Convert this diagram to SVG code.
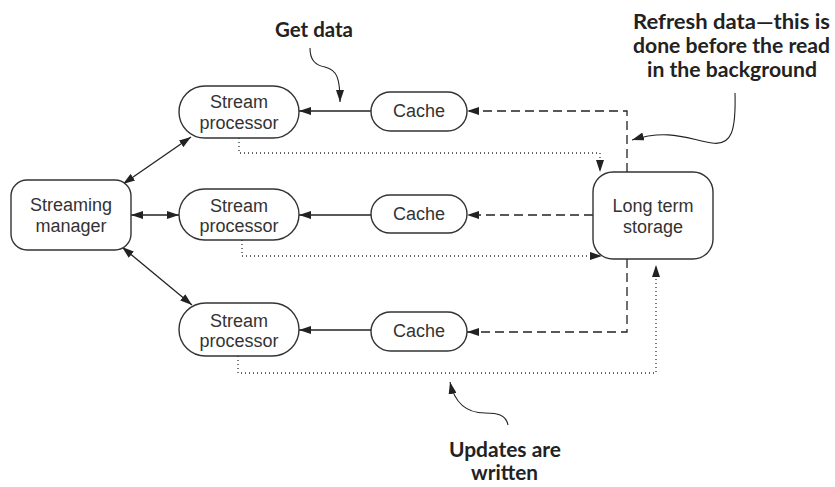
<svg xmlns="http://www.w3.org/2000/svg" width="835" height="487" viewBox="0 0 835 487">
<style>
.node{fill:#fff;stroke:#333;stroke-width:1.4}
.nt{font-family:"Liberation Sans",Arial,sans-serif;font-size:18px;fill:#333;text-anchor:middle}
.bt{font-family:Lato,"Open Sans",sans-serif;font-weight:700;font-size:20px;fill:#222;text-anchor:middle}
.solid{fill:none;stroke:#222;stroke-width:1.3}
.dash{fill:none;stroke:#222;stroke-width:1.3;stroke-dasharray:9 5}
.dot{fill:none;stroke:#333;stroke-width:1.3;stroke-dasharray:1 3}
.call{fill:none;stroke:#222;stroke-width:1.1}
</style>
<defs>
<marker id="arr" viewBox="0 0 12 8" refX="12" refY="4" markerWidth="12" markerHeight="8" markerUnits="userSpaceOnUse" orient="auto-start-reverse">
<path d="M0,0 L12,4 L0,8 z" fill="#222"/>
</marker>
</defs>
<g id="connectors">
<path class="solid" d="M371,111 H299" marker-end="url(#arr)"/>
<path class="solid" d="M371,215 H299" marker-end="url(#arr)"/>
<path class="solid" d="M371,330 H299" marker-end="url(#arr)"/>
<path class="dash" d="M627,172 V111 H467" marker-end="url(#arr)"/>
<path class="dash" d="M593,215 H467" marker-end="url(#arr)"/>
<path class="dash" d="M627,259 V332 H467" marker-end="url(#arr)"/>
<path class="dot" d="M239,138 V153 H600 V172" marker-end="url(#arr)"/>
<path class="dot" d="M242,240 V256 H602" marker-end="url(#arr)"/>
<path class="dot" d="M238,356 V373 H656 V265" marker-end="url(#arr)"/>
<path class="solid" d="M123,184 L191,137" marker-start="url(#arr)" marker-end="url(#arr)"/>
<path class="solid" d="M131,215 H179" marker-start="url(#arr)" marker-end="url(#arr)"/>
<path class="solid" d="M122,247 L192,305" marker-start="url(#arr)" marker-end="url(#arr)"/>
<path class="call" d="M310,48 C310,60 315,65 325,67 C337,70 340,78 340,102" marker-end="url(#arr)"/>
<path class="call" d="M735,93 C736,130 732,146 712,143 C690,140 670,128 632,140" marker-end="url(#arr)"/>
<path class="call" d="M508,425 C506,415 498,413 485,413 C468,413 455,405 450,382" marker-end="url(#arr)"/>
</g>
<g id="streaming-manager">
<rect class="node" x="11" y="180" width="120" height="70" rx="16"/>
<text class="nt" x="71" y="211">Streaming</text>
<text class="nt" x="71" y="232">manager</text>
</g>
<g id="stream-processor-1">
<rect class="node" x="179" y="86" width="120" height="52" rx="26"/>
<text class="nt" x="239" y="108">Stream</text>
<text class="nt" x="239" y="129">processor</text>
</g>
<g id="stream-processor-2">
<rect class="node" x="179" y="189" width="120" height="51" rx="25.5"/>
<text class="nt" x="239" y="212">Stream</text>
<text class="nt" x="239" y="232">processor</text>
</g>
<g id="stream-processor-3">
<rect class="node" x="179" y="303" width="120" height="53" rx="26.5"/>
<text class="nt" x="239" y="327">Stream</text>
<text class="nt" x="239" y="347">processor</text>
</g>
<g id="cache-1">
<rect class="node" x="371" y="92" width="96" height="39" rx="19.5"/>
<text class="nt" x="419" y="117">Cache</text>
</g>
<g id="cache-2">
<rect class="node" x="371" y="195" width="96" height="38" rx="19"/>
<text class="nt" x="419" y="220">Cache</text>
</g>
<g id="cache-3">
<rect class="node" x="371" y="312" width="96" height="39" rx="19.5"/>
<text class="nt" x="419" y="337">Cache</text>
</g>
<g id="long-term-storage">
<rect class="node" x="593" y="172" width="120" height="87" rx="20"/>
<text class="nt" x="653" y="212">Long term</text>
<text class="nt" x="653" y="233">storage</text>
</g>
<g id="labels">
<text class="bt" x="314" y="37" textLength="78" lengthAdjust="spacingAndGlyphs">Get data</text>
<text class="bt" x="731.5" y="29" textLength="197" lengthAdjust="spacingAndGlyphs">Refresh data—this is</text>
<text class="bt" x="731.5" y="53" textLength="197" lengthAdjust="spacingAndGlyphs">done before the read</text>
<text class="bt" x="732" y="77" textLength="170" lengthAdjust="spacingAndGlyphs">in the background</text>
<text class="bt" x="505" y="457" textLength="112" lengthAdjust="spacingAndGlyphs">Updates are</text>
<text class="bt" x="504.5" y="480" textLength="67" lengthAdjust="spacingAndGlyphs">written</text>
</g>
</svg>
